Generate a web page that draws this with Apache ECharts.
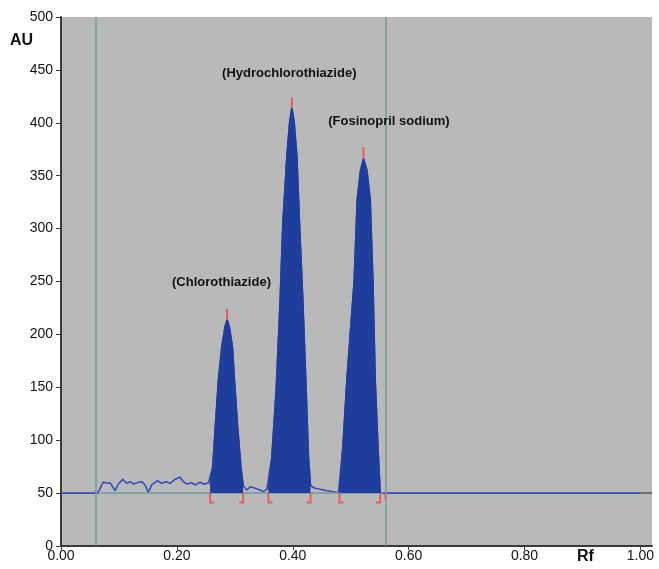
<!DOCTYPE html>
<html>
<head>
<meta charset="utf-8">
<script src="https://cdn.jsdelivr.net/npm/echarts@6/dist/echarts.min.js"></script>
<style>html,body{margin:0;padding:0;background:#fff}#c{width:659px;height:569px}</style>
</head>
<body>
<div id="c"></div>
<script>
// ---- data (Rf, AU) ----
var xTicks = [0, 0.2, 0.4, 0.6, 0.8, 1.0];
var leadIn = [[0, 50], [0.0634, 50]];
var noise1 = [[0.0644,50.5],[0.0731,60.5],[0.0789,59.3],[0.0846,59.8],[0.0933,52.3],[0.0990,58.6],[0.1065,63],[0.1134,59.3],[0.1192,60.8],[0.1249,58.6],[0.1336,60.2],[0.1393,60.8],[0.1451,57.7],[0.1508,50.7],[0.1566,57.7],[0.1664,61.7],[0.1739,59.3],[0.1813,60.8],[0.1883,59.3],[0.1969,63],[0.2055,64.9],[0.2112,60.8],[0.2171,58.6],[0.2257,59.8],[0.2314,57.7],[0.2401,60.2],[0.2470,58.3],[0.2545,59.8]];
var peak1 = [[0.2573,58],[0.2620,75],[0.2660,110],[0.2717,157],[0.2775,188],[0.2830,207],[0.2867,214],[0.2905,207],[0.2959,188],[0.2993,157],[0.3052,110],[0.3104,75],[0.3143,57]];
var gap1 = [[0.3207,52.9],[0.3264,56],[0.3351,54.5],[0.3437,52.9],[0.3494,51.3],[0.3552,53.6]];
var peak2 = [[0.3580,53],[0.3639,84],[0.3713,147],[0.3782,232],[0.3829,305],[0.3898,368],[0.3945,400],[0.3984,414],[0.4025,400],[0.4071,368],[0.4116,305],[0.4174,232],[0.4231,147],[0.4271,84],[0.4306,57]];
var gap2 = [[0.4387,54.6],[0.4473,53.6],[0.4589,52.3],[0.4703,51.3],[0.4789,50.3]];
var peak3 = [[0.4807,51],[0.4865,94],[0.4934,157],[0.5060,251],[0.5112,327],[0.5170,355],[0.5221,366],[0.5280,355],[0.5337,327],[0.5383,251],[0.5423,157],[0.5470,94],[0.5509,50]];
var tail = [[0.5520, 50], [1.0, 50]];

// peak integration markers: start, end, apex Rf, apex AU, apex marker top AU
var peakStart = [0.2573, 0.3580, 0.4807];
var peakEnd = [0.3143, 0.4306, 0.5509];
var apexRf = [0.2867, 0.3984, 0.5221];
var apexAU = [214, 414, 366];
var apexTop = [224, 424, 377];
var extraMarkRf = [0.5596];

// track limits (vertical lines)
var trackStart = 0.0634;
var trackEnd = 0.556;

// peak names
var peakNames = ['(Chlorothiazide)', '(Hydrochlorothiazide)', '(Fosinopril sodium)'];
var nameRf = [0.277, 0.394, 0.566];
var nameAU = [249.5, 447, 401];

var trace = [].concat(leadIn, noise1, peak1, gap1, peak2, gap2, peak3, tail);

var TEAL = '#6c9e9a';
var RED = '#ea5a5c';
var LINE = '#3a4abd';
var FILL = '#1f3d9b';
var FONT = 'Liberation Sans, Arial, sans-serif';

function fillSeries(d) {
  return {
    type: 'line', data: d, symbol: 'none', z: 5, silent: true,
    lineStyle: { width: 1.5, color: FILL },
    areaStyle: { color: FILL, opacity: 1, origin: 50 }
  };
}

var markerData = peakStart.map(function (s, i) {
  return [s, peakEnd[i], apexRf[i], apexAU[i], apexTop[i]];
});

var chart = echarts.init(document.getElementById('c'), null, { renderer: 'canvas' });
chart.setOption({
  animation: false,
  backgroundColor: '#ffffff',
  grid: { left: 61, right: 7, top: 17, bottom: 23, show: true, backgroundColor: '#b9b9b9', borderWidth: 0 },
  xAxis: {
    type: 'value', min: 0, max: 1.02, interval: 0.2,
    axisLine: { show: true, lineStyle: { color: '#3a3a3a', width: 2 } },
    axisTick: { show: true, length: 4, lineStyle: { color: '#3a3a3a' }, customValues: xTicks },
    axisLabel: { color: '#111', fontSize: 14, fontFamily: FONT, margin: 3, customValues: xTicks,
      formatter: function (v) { return v > 1.001 ? '' : v.toFixed(2); } },
    splitLine: { show: false }
  },
  yAxis: {
    type: 'value', min: 0, max: 500, interval: 50,
    axisLine: { show: true, lineStyle: { color: '#3a3a3a', width: 2 } },
    axisTick: { show: true, length: 5, lineStyle: { color: '#3a3a3a' } },
    axisLabel: { color: '#111', fontSize: 14, fontFamily: FONT, margin: 8 },
    splitLine: { show: false }
  },
  graphic: [
    { type: 'text', left: 10, top: 33, style: { text: 'AU', font: 'bold 16px ' + FONT, fill: '#111' } },
    { type: 'text', left: 577, top: 549, style: { text: 'Rf', font: 'bold 16px ' + FONT, fill: '#111' } }
  ],
  series: [
    {
      type: 'line', data: [], z: 1, silent: true,
      markLine: {
        silent: true, symbol: 'none', label: { show: false },
        lineStyle: { color: TEAL, width: 1.5, type: 'solid' },
        data: [
          { xAxis: trackStart }, { xAxis: trackEnd },
          [{ coord: [trackStart, 50] }, { coord: [trackEnd, 50] }],
          [{ coord: [1.0, 50], lineStyle: { color: '#555', width: 1.5 } }, { coord: [1.02, 50] }]
        ]
      }
    },
    {
      type: 'line', data: trace, symbol: 'none', z: 4, silent: true,
      lineStyle: { color: LINE, width: 1.6 }
    },
    fillSeries(peak1), fillSeries(peak2), fillSeries(peak3),
    {
      type: 'custom', data: markerData, z: 6, silent: true,
      renderItem: function (params, api) {
        var s = api.value(0), e = api.value(1), ar = api.value(2), aa = api.value(3), at = api.value(4);
        var ps0 = api.coord([s, 50]), ps1 = api.coord([s, 41]);
        var pe0 = api.coord([e, 50]), pe1 = api.coord([e, 41]);
        var pa0 = api.coord([ar, aa]), pa1 = api.coord([ar, at]);
        var st = { stroke: RED, lineWidth: 2, fill: null };
        return { type: 'group', children: [
          { type: 'polyline', shape: { points: [ps0, ps1, [ps1[0] + 4, ps1[1]]] }, style: st },
          { type: 'polyline', shape: { points: [pe0, pe1, [pe1[0] - 4, pe1[1]]] }, style: st },
          { type: 'polyline', shape: { points: [pa0, pa1] }, style: st }
        ] };
      }
    },
    {
      type: 'custom', data: extraMarkRf.map(function (r) { return [r, 50]; }), z: 6, silent: true,
      renderItem: function (params, api) {
        var p0 = api.coord([api.value(0), 50]), p1 = api.coord([api.value(0), 44]);
        return { type: 'line', shape: { x1: p0[0], y1: p0[1], x2: p1[0], y2: p1[1] }, style: { stroke: RED, lineWidth: 1.5 } };
      }
    },
    {
      type: 'custom', z: 7, silent: true,
      data: peakNames.map(function (n, i) { return { value: [nameRf[i], nameAU[i]], name: n }; }),
      renderItem: function (params, api) {
        var p = api.coord([api.value(0), api.value(1)]);
        return { type: 'text', x: p[0], y: p[1], style: {
          text: peakNames[params.dataIndex], font: 'bold 13px ' + FONT, fill: '#111',
          align: 'center', verticalAlign: 'middle' } };
      }
    }
  ]
});
</script>
</body>
</html>
